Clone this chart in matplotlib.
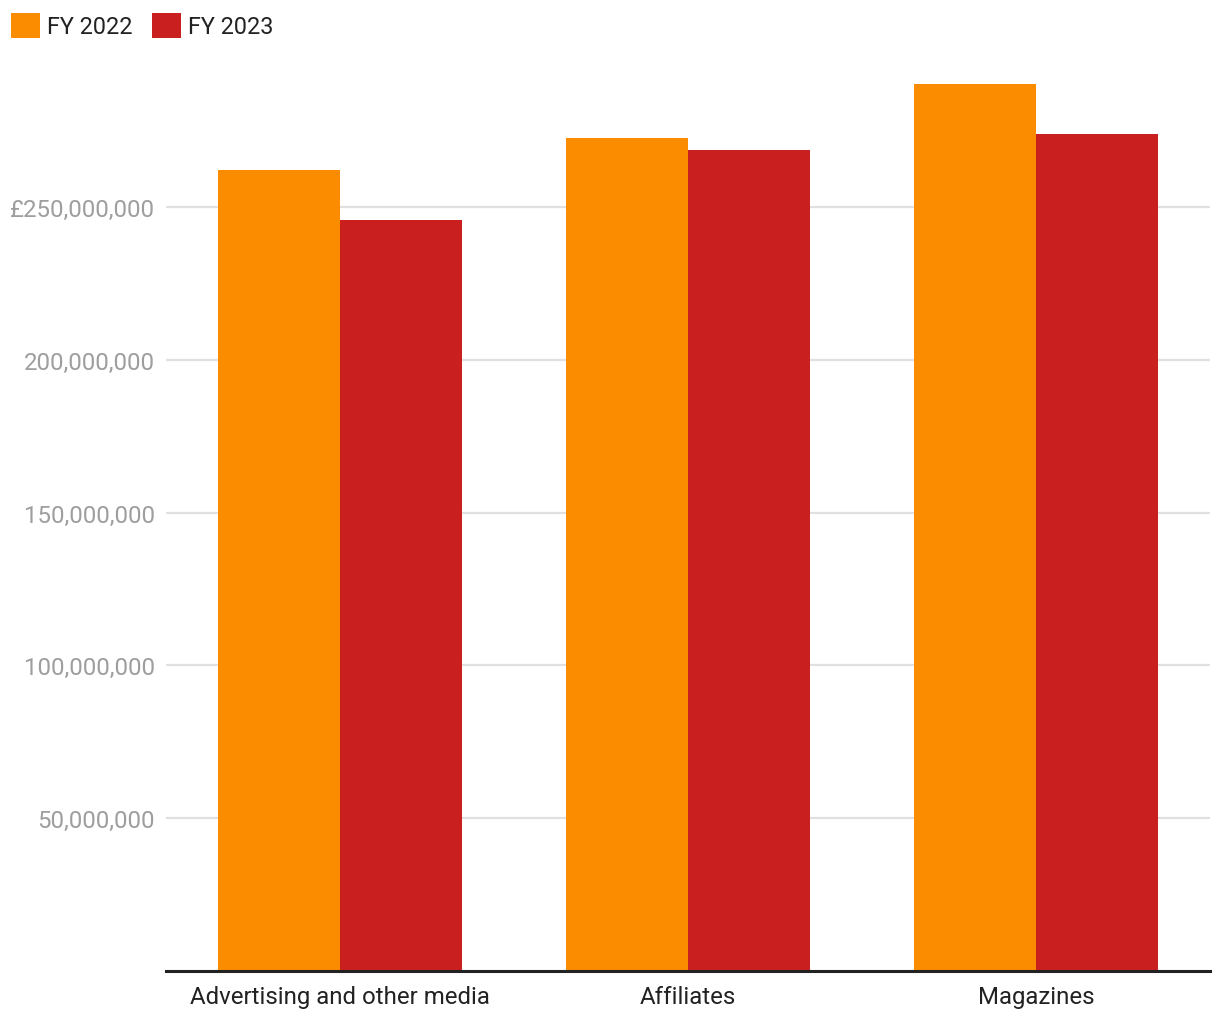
import matplotlib
matplotlib.use("Agg")
import matplotlib.pyplot as plt
from matplotlib.ticker import FuncFormatter
import numpy as np

categories = ["Advertising and other media", "Affiliates", "Magazines"]
series_names = ["FY 2022", "FY 2023"]
fy2022 = [262_100_000, 272_600_000, 290_300_000]
fy2023 = [245_700_000, 268_700_000, 273_900_000]
yticks = [50_000_000, 100_000_000, 150_000_000, 200_000_000, 250_000_000]
colors = ["#FB8C00", "#C91F1F"]

plt.rcParams['font.family'] = ['Roboto', 'DejaVu Sans']

fig = plt.figure(figsize=(12.2, 10.2), dpi=100)
W, H = 1220, 1020
ax = fig.add_axes([166 / W, (H - 972) / H, (1210 - 166) / W, (972 - 55) / H])

x = np.arange(len(categories))
bw = 0.35
b1 = ax.bar(x - bw / 2, fy2022, width=bw, color=colors[0], label=series_names[0], zorder=3)
b2 = ax.bar(x + bw / 2, fy2023, width=bw, color=colors[1], label=series_names[1], zorder=3)

ax.set_xlim(-0.5, len(categories) - 0.5)
ax.set_ylim(0, 300_000_000)
ax.set_yticks(yticks)

def fmt(v, pos):
    s = f"{int(v):,}"
    if v == max(yticks):
        s = "£" + s
    return s

ax.yaxis.set_major_formatter(FuncFormatter(fmt))
ax.set_xticks(x)
ax.set_xticklabels(categories)

ax.tick_params(axis='y', length=0, pad=8, labelsize=17.3, labelcolor="#9e9e9e")
ax.tick_params(axis='x', length=0, pad=10, labelsize=17.3, labelcolor="#222222")

ax.grid(axis='y', color="#e0e0e0", linewidth=1.6, zorder=0)
ax.set_axisbelow(True)
for s in ["top", "right", "left"]:
    ax.spines[s].set_visible(False)
ax.spines["bottom"].set_color("#222222")
ax.spines["bottom"].set_linewidth(2.2)
ax.spines["bottom"].set_zorder(4)

leg = fig.legend(handles=[b1, b2], loc="upper left", bbox_to_anchor=(4 / W, 1 - 7 / H),
                 ncol=2, frameon=False, fontsize=16.8, handlelength=1.25, handleheight=1.25,
                 handletextpad=0.3, columnspacing=0.82, borderaxespad=0, borderpad=0.3)
for t in leg.get_texts():
    t.set_color("#222222")

fig.savefig("out.png", dpi=100, facecolor="white")
